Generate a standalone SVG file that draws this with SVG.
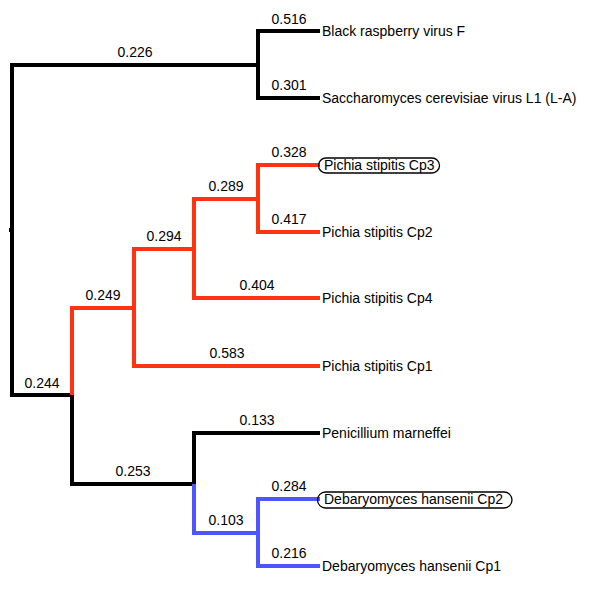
<svg xmlns="http://www.w3.org/2000/svg" width="600" height="593" viewBox="0 0 600 593">
<style>
.e{fill:none;stroke-width:4;stroke-linejoin:miter;stroke-linecap:butt}
.k{stroke:#000}
.r{stroke:#ff3311}
.b{stroke:#4d55ff}
text{font-family:"Liberation Sans",Arial,sans-serif;font-size:14px;fill:#000}
.bl{text-anchor:middle}
.ov{fill:none;stroke:#000;stroke-width:1.3}
</style>
<rect width="600" height="593" fill="#fff"/>
<g id="connectors">
<path class="e k" d="M9,230 H12"/>
<path class="e k" d="M12,230 V65 H258"/>
<path class="e k" d="M12,230 V395 H72"/>
<path class="e k" d="M258,65 V31 H320"/>
<path class="e k" d="M258,65 V98 H320"/>
<path class="e r" d="M72,395 V308 H134"/>
<path class="e k" d="M72,395 V484 H194"/>
<path class="e r" d="M134,308 V249 H194"/>
<path class="e r" d="M134,308 V366 H320"/>
<path class="e r" d="M194,249 V199 H258"/>
<path class="e r" d="M194,249 V298 H320"/>
<path class="e r" d="M258,199 V165 H320"/>
<path class="e r" d="M258,199 V232 H320"/>
<path class="e k" d="M194,484 V433 H320"/>
<path class="e b" d="M194,484 V533 H258"/>
<path class="e b" d="M258,533 V499 H320"/>
<path class="e b" d="M258,533 V566 H320"/>
</g>
<g id="branch-lengths">
<text class="bl" x="135" y="57">0.226</text>
<text class="bl" x="289" y="24">0.516</text>
<text class="bl" x="289" y="90">0.301</text>
<text class="bl" x="42" y="388">0.244</text>
<text class="bl" x="103" y="300">0.249</text>
<text class="bl" x="164" y="241">0.294</text>
<text class="bl" x="226" y="191">0.289</text>
<text class="bl" x="289" y="157">0.328</text>
<text class="bl" x="289" y="224">0.417</text>
<text class="bl" x="257" y="290">0.404</text>
<text class="bl" x="227" y="358">0.583</text>
<text class="bl" x="133" y="476">0.253</text>
<text class="bl" x="257" y="425">0.133</text>
<text class="bl" x="226" y="525">0.103</text>
<text class="bl" x="289" y="491">0.284</text>
<text class="bl" x="289" y="558">0.216</text>
</g>
<g id="leaf-black-raspberry"><text x="322" y="36">Black raspberry virus F</text></g>
<g id="leaf-saccharomyces"><text x="322" y="103">Saccharomyces cerevisiae virus L1 (L-A)</text></g>
<g id="leaf-pichia-cp3"><rect class="ov" x="318.5" y="158" width="121" height="15" rx="7.5"/><text x="324" y="170">Pichia stipitis Cp3</text></g>
<g id="leaf-pichia-cp2"><text x="322" y="237">Pichia stipitis Cp2</text></g>
<g id="leaf-pichia-cp4"><text x="322" y="303">Pichia stipitis Cp4</text></g>
<g id="leaf-pichia-cp1"><text x="322" y="371">Pichia stipitis Cp1</text></g>
<g id="leaf-penicillium"><text x="322" y="438">Penicillium marneffei</text></g>
<g id="leaf-debaryomyces-cp2"><rect class="ov" x="317.5" y="492" width="194.5" height="16" rx="8"/><text x="324" y="504">Debaryomyces hansenii Cp2</text></g>
<g id="leaf-debaryomyces-cp1"><text x="322" y="571">Debaryomyces hansenii Cp1</text></g>
</svg>
